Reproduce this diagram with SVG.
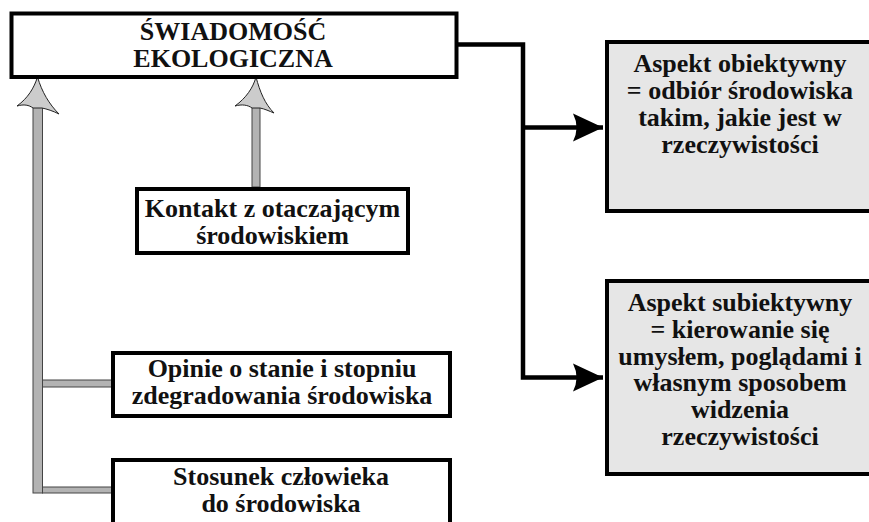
<svg xmlns="http://www.w3.org/2000/svg" width="869" height="522" viewBox="0 0 869 522">
<defs>
<style>
.box{fill:#ffffff;stroke:#000;stroke-width:4}
.gbox{fill:#e6e6e6;stroke:#000;stroke-width:4}
.t{font-family:"Liberation Serif","Times New Roman",serif;font-weight:bold;font-size:26px;fill:#111;text-anchor:middle}
.bar{fill:#b3b3b3;stroke:#444;stroke-width:1}
.ghead{fill:#cccccc;stroke:#222;stroke-width:1}
.wire{fill:none;stroke:#000;stroke-width:4.5;stroke-linejoin:miter}
</style>
<marker id="ah" markerUnits="userSpaceOnUse" markerWidth="34" markerHeight="30" refX="32" refY="15" orient="auto">
<path d="M2,1 L32,15 L2,29 Q9,15 2,1 Z" fill="#000"/>
</marker>
</defs>
<rect width="869" height="522" fill="#fff"/>
<g id="connectors">
<path class="wire" d="M456,44.5 H523 V377.5 H603" marker-end="url(#ah)"/>
<path class="wire" d="M523,127.5 H603" marker-end="url(#ah)"/>
<rect class="bar" x="33" y="106" width="9.5" height="387"/>
<rect class="bar" x="42.5" y="380" width="70" height="7"/>
<rect class="bar" x="42.5" y="487" width="70" height="6"/>
<path class="ghead" d="M37.5,77 C34,88 28,98 17,106 C24,104 29,105 33,108 L42,108 C47,109 53,111 59,114 C49,104 42,92 37.5,77 Z"/>
<rect class="bar" x="252" y="106" width="8" height="81"/>
<path class="ghead" d="M256,77 C253,88 246,98 235,106 C242,104 248,105 252,108 L260,108 C265,109 269,111 274,113 C265,104 260,92 256,77 Z"/>
</g>
<g id="swiadomosc">
<rect class="box" x="11.5" y="13.5" width="445" height="63.5"/>
<text class="t" x="233" y="40">ŚWIADOMOŚĆ</text>
<text class="t" x="233" y="66.5">EKOLOGICZNA</text>
</g>
<g id="kontakt">
<rect class="box" x="137" y="189" width="271" height="64"/>
<text class="t" x="272.5" y="216.5">Kontakt z otaczającym</text>
<text class="t" x="272.5" y="243.5">środowiskiem</text>
</g>
<g id="opinie">
<rect class="box" x="113" y="353" width="337" height="63"/>
<text class="t" x="282" y="376.5">Opinie o stanie i stopniu</text>
<text class="t" x="282" y="403.5">zdegradowania środowiska</text>
</g>
<g id="stosunek">
<rect class="box" x="113" y="460" width="337" height="80"/>
<text class="t" x="281" y="485">Stosunek człowieka</text>
<text class="t" x="281" y="511.5">do środowiska</text>
</g>
<g id="obiektywny">
<rect class="gbox" x="607" y="42" width="280" height="169"/>
<text class="t" x="740" y="72">Aspekt obiektywny</text>
<text class="t" x="740" y="99">= odbiór środowiska</text>
<text class="t" x="740" y="126">takim, jakie jest w</text>
<text class="t" x="740" y="153">rzeczywistości</text>
</g>
<g id="subiektywny">
<rect class="gbox" x="607" y="281" width="280" height="193"/>
<text class="t" x="740" y="311">Aspekt subiektywny</text>
<text class="t" x="740" y="338">= kierowanie się</text>
<text class="t" x="740" y="364.5">umysłem, poglądami i</text>
<text class="t" x="740" y="391">własnym sposobem</text>
<text class="t" x="740" y="418">widzenia</text>
<text class="t" x="740" y="444.5">rzeczywistości</text>
</g>
</svg>
